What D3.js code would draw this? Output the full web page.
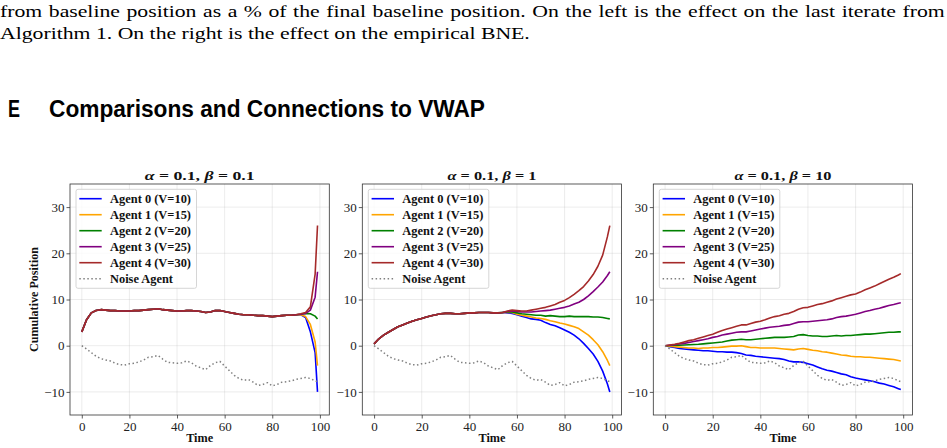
<!DOCTYPE html>
<html>
<head>
<meta charset="utf-8">
<script src="https://cdnjs.cloudflare.com/ajax/libs/d3/7.8.5/d3.min.js"></script>
<style>
body { margin: 0; background: #fff; }
svg { display: block; }
</style>
</head>
<body>
<svg id="fig" width="947" height="448"></svg>
<script>
var times = [0,2,4,6,8,10,12,14,16,18,20,22,24,26,28,30,32,34,36,38,40,42,44,46,48,
    50,52,54,56,58,60,62,64,66,68,70,72,74,76,78,80,82,84,86,88,90,92,94,96,98,99];

var xTicks = [0, 20, 40, 60, 80, 100];
var yTicks = [-10, 0, 10, 20, 30];

var agentNames = ["Agent 0 (V=10)", "Agent 1 (V=15)", "Agent 2 (V=20)", "Agent 3 (V=25)", "Agent 4 (V=30)", "Noise Agent"];
var agentColors = ["#0000ff", "#ffa500", "#008000", "#800080", "#a52a2a", "#808080"];
var betas = ["0.1", "1", "10"];

// noise agent, same in all three panels
var noise = [0,-0.7,-1.5,-2.3,-2.8,-3.1,-3.3,-3.8,-4.1,-4.2,-3.9,-3.8,-3.5,-3.1,-2.5,-2.4,-2.1,-2.9,-3.6,-3.7,
    -3.8,-3.7,-3.3,-3.7,-4.4,-4.8,-5.2,-4.3,-3.7,-3.4,-4.4,-5.4,-6.4,-7.1,-7.5,-7.3,-7.9,-8.6,-8.4,-8.0,
    -8.7,-8.4,-7.9,-7.8,-7.6,-7.3,-7.1,-6.9,-7.1,-7.6,-7.8];

// beta = 0.1 : agents overlap until t=90, then split
var b01Shared = [3.0,5.6,7.1,7.6,7.8,7.7,7.6,7.6,7.5,7.5,7.5,7.6,7.6,7.7,7.8,7.9,8.0,7.8,7.7,7.6,
    7.5,7.5,7.6,7.6,7.5,7.4,7.2,7.3,7.6,7.6,7.4,7.2,7.0,6.8,6.7,6.7,6.6,6.5,6.5,6.4,6.3,6.4,6.5,6.6,6.6,6.7];
var b01Tail0 = [6.7, 6.1, 3.0, -1.5, -10.0];
var b01Tail1 = [6.7, 6.3, 4.6, 0.8, -4.3];
var b01Tail2 = [6.8, 7.0, 6.9, 6.4, 5.8];
var b01Tail3 = [6.8, 7.0, 7.7, 10.5, 16.0];
var b01Tail4 = [6.9, 7.2, 8.4, 15.5, 26.0];

// beta = 1 : shared until t=54
var b1Shared = [0.4,1.5,2.3,2.9,3.5,4.1,4.5,4.9,5.3,5.6,5.9,6.2,6.5,6.7,6.9,7.0,7.0,6.9,6.9,7.0,
    7.1,7.1,7.2,7.2,7.2,7.1,7.1,7.2];
var b1Tail0 = [7.1,7.0,6.7,6.4,6.1,5.8,5.7,5.5,5.0,4.6,4.3,3.9,3.4,2.9,2.3,1.5,0.5,-0.6,-1.8,-3.4,-5.5,-8.3,-10.0];
var b1Tail1 = [7.2,7.2,6.8,6.6,6.4,6.2,6.0,5.9,5.7,5.4,5.2,4.9,4.7,4.4,4.1,3.7,3.0,2.3,1.3,0.2,-1.3,-3.2,-4.3];
var b1Tail2 = [7.3,7.3,7.1,6.9,6.8,6.7,6.6,6.6,6.4,6.5,6.4,6.3,6.3,6.4,6.3,6.3,6.3,6.3,6.2,6.2,6.1,5.9,5.8];
var b1Tail3 = [7.4,7.5,7.4,7.3,7.3,7.3,7.4,7.5,7.6,7.7,7.9,8.1,8.3,8.6,9.0,9.4,10.0,10.8,11.7,12.7,13.8,15.2,16.0];
var b1Tail4 = [7.5,7.7,7.6,7.5,7.5,7.7,7.9,8.1,8.3,8.6,8.9,9.4,9.8,10.4,11.1,11.9,12.8,14.0,15.4,17.2,19.6,23.6,26.0];

// beta = 10
var b10Agent0 = [0,-0.2,-0.4,-0.6,-0.7,-0.8,-0.9,-1.0,-1.1,-1.1,-1.2,-1.3,-1.3,-1.4,-1.4,-1.5,-1.7,-2.0,-2.1,-2.3,
    -2.4,-2.5,-2.6,-2.7,-2.8,-3.0,-3.3,-3.5,-3.5,-3.6,-3.9,-4.2,-4.6,-5.0,-5.3,-5.5,-5.8,-6.1,-6.3,-6.7,
    -7.0,-7.2,-7.4,-7.6,-7.8,-8.1,-8.3,-8.6,-8.9,-9.3,-9.5];
var b10Agent1 = [0,-0.1,-0.2,-0.3,-0.4,-0.5,-0.5,-0.6,-0.5,-0.5,-0.4,-0.4,-0.3,-0.2,-0.1,-0.1,0.0,-0.2,-0.4,-0.4,
    -0.5,-0.5,-0.5,-0.5,-0.6,-0.7,-0.8,-0.9,-0.7,-0.6,-0.8,-1.0,-1.1,-1.3,-1.4,-1.6,-1.8,-2.0,-2.1,-2.3,
    -2.4,-2.4,-2.5,-2.5,-2.6,-2.7,-2.8,-2.9,-3.0,-3.2,-3.3];
var b10Agent2 = [0,0.05,0.1,0.1,0.15,0.2,0.25,0.3,0.4,0.5,0.6,0.7,0.8,1.0,1.2,1.3,1.4,1.3,1.3,1.4,
    1.5,1.6,1.7,1.8,1.8,1.8,1.9,2.0,2.3,2.4,2.2,2.1,2.1,2.0,2.0,2.1,2.2,2.1,2.2,2.2,
    2.3,2.4,2.5,2.5,2.6,2.7,2.8,2.9,2.9,3.0,3.0];
var b10Agent3 = [0,0.1,0.2,0.35,0.5,0.7,0.9,1.1,1.3,1.5,1.8,2.0,2.3,2.5,2.7,2.9,3.0,3.0,3.2,3.4,
    3.6,3.8,4.0,4.1,4.2,4.4,4.5,4.8,5.1,5.2,5.2,5.3,5.4,5.5,5.6,5.8,6.1,6.3,6.4,6.6,
    6.8,7.1,7.4,7.6,7.9,8.1,8.4,8.7,8.9,9.2,9.3];
var b10Agent4 = [0,0.15,0.3,0.5,0.8,1.1,1.3,1.6,1.9,2.2,2.5,2.9,3.3,3.6,3.9,4.2,4.5,4.5,4.8,5.1,
    5.3,5.6,6.0,6.3,6.5,6.8,7.0,7.4,7.9,8.2,8.3,8.6,8.9,9.1,9.4,9.7,10.1,10.4,10.7,11.0,
    11.2,11.6,12.1,12.5,12.9,13.4,13.9,14.4,14.8,15.3,15.6];

var panels = [
    [b01Shared.concat(b01Tail0), b01Shared.concat(b01Tail1), b01Shared.concat(b01Tail2),
     b01Shared.concat(b01Tail3), b01Shared.concat(b01Tail4), noise],
    [b1Shared.concat(b1Tail0), b1Shared.concat(b1Tail1), b1Shared.concat(b1Tail2),
     b1Shared.concat(b1Tail3), b1Shared.concat(b1Tail4), noise],
    [b10Agent0, b10Agent1, b10Agent2, b10Agent3, b10Agent4, noise]
];

var svg = d3.select("#fig");
var serif = "'Liberation Serif', 'Times New Roman', serif";
var sans = "'Liberation Sans', Arial, sans-serif";

// caption text above the section heading (LaTeX body text, line 1 is justified)
var line1 = "from baseline position as a % of the final baseline position. On the left is the effect on the last iterate from";
var line2 = "Algorithm 1. On the right is the effect on the empirical BNE.";
var cap = svg.append("g");
var c2 = cap.append("text")
    .attr("x", 0).attr("y", 39.5)
    .attr("font-family", serif).attr("font-size", 17).attr("fill", "#000")
    .text(line2);
var sx = 530 / c2.node().getComputedTextLength();
var c1 = cap.append("text")
    .attr("x", 0).attr("y", 17.5)
    .attr("font-family", serif).attr("font-size", 17).attr("fill", "#000")
    .text(line1);
var nat1 = c1.node().getComputedTextLength();
var spaces = line1.split(" ").length - 1;
c1.attr("word-spacing", Math.max(0, (945 / sx - nat1) / spaces));
cap.attr("transform", "scale(" + sx + ",1)");

svg.append("text")
    .attr("x", 8).attr("y", 116.5)
    .attr("font-family", sans).attr("font-weight", "bold")
    .attr("font-size", 23).attr("fill", "#000")
    .attr("textLength", 12).attr("lengthAdjust", "spacingAndGlyphs")
    .text("E");
svg.append("text")
    .attr("x", 49).attr("y", 116.5)
    .attr("font-family", sans).attr("font-weight", "bold")
    .attr("font-size", 23).attr("fill", "#000")
    .attr("textLength", 436).attr("lengthAdjust", "spacingAndGlyphs")
    .text("Comparisons and Connections to VWAP");

var lefts = [70, 362.3, 653.3];
var titleWidths = [110, 89, 97];
var top0 = 184, w = 259.3, h = 231;

var x = d3.scaleLinear().domain([-4.95, 103.95]).range([0, w]);
var y = d3.scaleLinear().domain([-15, 35]).range([h, 0]);

var fmt = function(d) { return d < 0 ? "\u2212" + Math.abs(d) : d; };

panels.forEach(function(series, p) {
    var g = svg.append("g").attr("transform", "translate(" + lefts[p] + "," + top0 + ")");

    // grid
    g.append("g").selectAll("line").data(xTicks).enter().append("line")
        .attr("x1", function(d) { return x(d); }).attr("x2", function(d) { return x(d); })
        .attr("y1", 0).attr("y2", h)
        .attr("stroke", "#b0b0b0").attr("stroke-opacity", 0.3).attr("stroke-width", 0.8);
    g.append("g").selectAll("line").data(yTicks).enter().append("line")
        .attr("y1", function(d) { return y(d); }).attr("y2", function(d) { return y(d); })
        .attr("x1", 0).attr("x2", w)
        .attr("stroke", "#b0b0b0").attr("stroke-opacity", 0.3).attr("stroke-width", 0.8);

    var line = d3.line()
        .x(function(d, i) { return x(times[i]); })
        .y(function(d) { return y(d); });

    series.forEach(function(vals, k) {
        var path = g.append("path")
            .attr("d", line(vals))
            .attr("fill", "none")
            .attr("stroke", agentColors[k])
            .attr("stroke-width", 1.6)
            .attr("stroke-linejoin", "round");
        if (k == 5) {
            path.attr("stroke-dasharray", "1.5,2.5").attr("stroke-width", 1.5);
        }
    });

    // axes
    var ax = g.append("g")
        .attr("transform", "translate(0," + h + ")")
        .call(d3.axisBottom(x).tickValues(xTicks).tickSize(3.5).tickPadding(3).tickFormat(fmt));
    var ay = g.append("g")
        .call(d3.axisLeft(y).tickValues(yTicks).tickSize(3.5).tickPadding(2).tickFormat(fmt));
    [ax, ay].forEach(function(a) {
        a.attr("font-size", null);
        a.select(".domain").remove();
        a.selectAll("line").attr("stroke", "#333").attr("stroke-width", 0.8);
        a.selectAll("text").attr("font-family", serif).attr("font-size", 13).attr("fill", "#222");
    });

    g.append("rect")
        .attr("width", w).attr("height", h)
        .attr("fill", "none").attr("stroke", "#333").attr("stroke-width", 0.8);

    // title
    var t = g.append("text")
        .attr("x", w / 2 - titleWidths[p] / 2).attr("y", -4)
        .attr("font-family", serif).attr("font-weight", "bold").attr("font-size", 13).attr("fill", "#111")
        .attr("textLength", titleWidths[p]).attr("lengthAdjust", "spacingAndGlyphs");
    t.append("tspan").attr("font-style", "italic").text("\u03b1");
    t.append("tspan").text(" = 0.1, ");
    t.append("tspan").attr("font-style", "italic").text("\u03b2");
    t.append("tspan").text(" = " + betas[p]);

    g.append("text")
        .attr("x", w / 2).attr("y", h + 27)
        .attr("text-anchor", "middle")
        .attr("font-family", serif).attr("font-weight", "bold").attr("font-size", 12).attr("fill", "#111")
        .attr("textLength", 27).attr("lengthAdjust", "spacingAndGlyphs")
        .text("Time");

    if (p == 0) {
        g.append("text")
            .attr("transform", "translate(-32," + (h / 2) + ") rotate(-90)")
            .attr("text-anchor", "middle")
            .attr("font-family", serif).attr("font-weight", "bold").attr("font-size", 12).attr("fill", "#111")
            .attr("textLength", 105).attr("lengthAdjust", "spacingAndGlyphs")
            .text("Cumulative Position");
    }

    // legend
    var lg = g.append("g").attr("transform", "translate(6,5.3)");
    lg.append("rect")
        .attr("width", 120.5).attr("height", 99).attr("rx", 2)
        .attr("fill", "#fff").attr("fill-opacity", 0.8)
        .attr("stroke", "#cccccc").attr("stroke-width", 0.8);
    agentNames.forEach(function(name, k) {
        var yy = 9.4 + k * 16;
        var l = lg.append("line")
            .attr("x1", 3.3).attr("x2", 25.7).attr("y1", yy).attr("y2", yy)
            .attr("stroke", agentColors[k]).attr("stroke-width", 1.6);
        if (k == 5) l.attr("stroke-dasharray", "1.5,2.5");
        lg.append("text")
            .attr("x", 34).attr("y", yy + 4)
            .attr("font-family", serif).attr("font-weight", "bold").attr("font-size", 11.5).attr("fill", "#111")
            .attr("textLength", k == 5 ? 63 : 81).attr("lengthAdjust", "spacingAndGlyphs")
            .text(name);
    });
});
</script>
</body>
</html>
